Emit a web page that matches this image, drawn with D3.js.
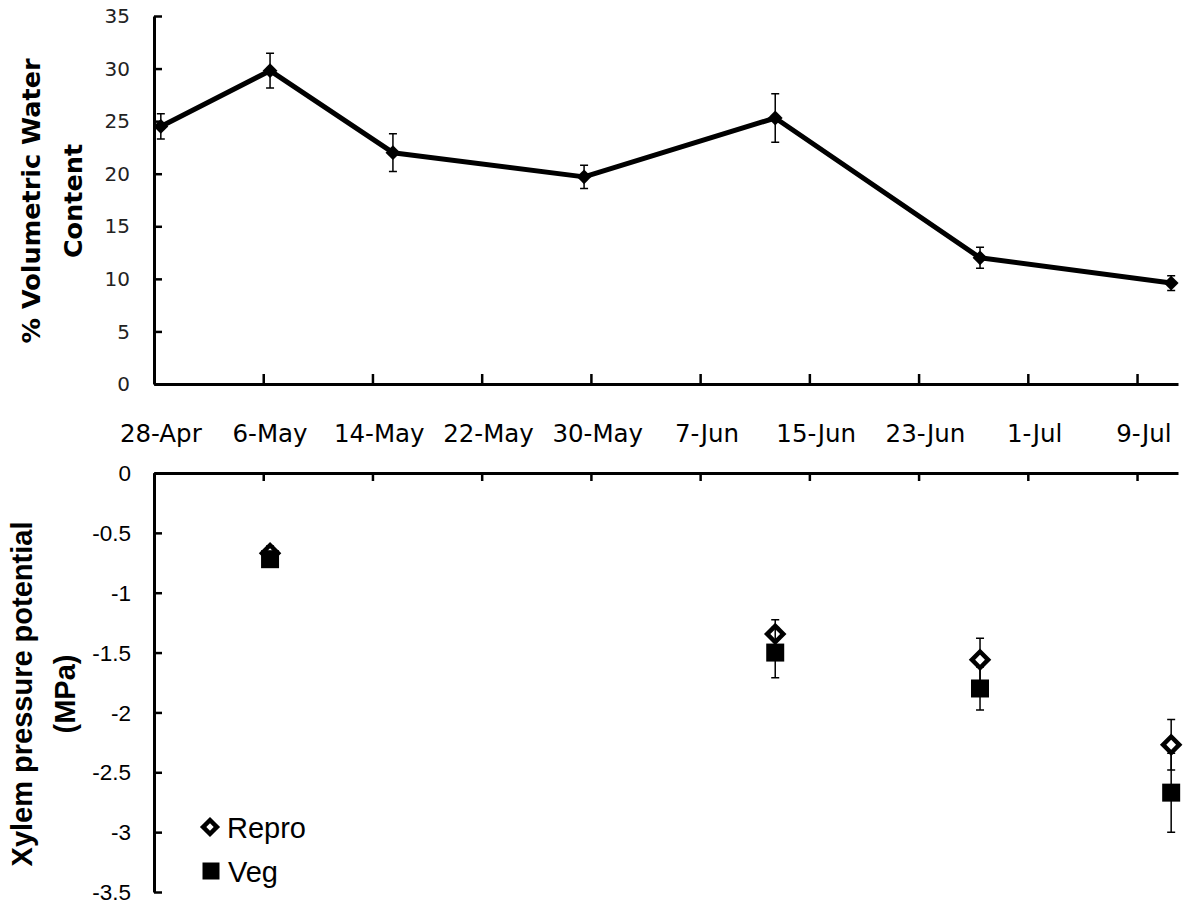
<!DOCTYPE html>
<html>
<head>
<meta charset="utf-8">
<style>
  body { margin: 0; background: #fff; }
  svg text { fill: #000; }
</style>
<script src="https://d3js.org/d3.v7.min.js"></script>
</head>
<body>
<svg width="1183" height="909"></svg>
<script>
// soil water content (top panel)
var vwcDates = ["28-Apr", "6-May", "15-May", "29-May", "12-Jun", "27-Jun", "11-Jul"];
var vwcMean = [24.5, 29.8, 22.0, 19.7, 25.3, 12.0, 9.6];
var vwcErr = [1.2, 1.65, 1.8, 1.1, 2.3, 1.0, 0.7];

// xylem pressure potential (bottom panel)
var psiDates = ["6-May", "12-Jun", "27-Jun", "11-Jul"];
var reproMean = [-0.67, -1.345, -1.56, -2.27];
var reproErr = [0.06, 0.12, 0.18, 0.21];
var vegMean = [-0.72, -1.50, -1.80, -2.67];
var vegErr = [0.04, 0.21, 0.18, 0.33];

var yTicksTop = [0, 5, 10, 15, 20, 25, 30, 35];
var yTicksBottom = [0, -0.5, -1, -1.5, -2, -2.5, -3, -3.5];

var parse = d3.utcParse("%d-%b-%Y");
function toDate(s) { return parse(s + "-2011"); }
function mid(s) { return d3.utcHour.offset(toDate(s), 12); }

var svg = d3.select("svg");

var x = d3.scaleUtc()
    .domain([toDate("28-Apr"), toDate("12-Jul")])
    .range([154, 1178]);
var xTicks = d3.utcDay.range(toDate("28-Apr"), toDate("12-Jul"), 8);

var yTop = d3.scaleLinear().domain([0, 35]).range([384, 16]);
var yBot = d3.scaleLinear().domain([0, -3.5]).range([473, 892]);

function styleAxis(g) {
  g.select(".domain").attr("stroke", "#000").attr("stroke-width", 3);
  g.selectAll(".tick line").attr("stroke", "#000").attr("stroke-width", 2.5);
}

// ---------- top panel ----------
var topG = svg.append("g");

topG.append("g")
   .attr("transform", "translate(0,384)")
   .call(d3.axisBottom(x).tickValues(xTicks).tickSize(-10).tickSizeOuter(0).tickFormat(""))
   .call(styleAxis);

topG.append("g")
   .attr("transform", "translate(154,0)")
   .call(d3.axisRight(yTop).tickValues(yTicksTop).tickSize(8).tickSizeOuter(0).tickFormat(""))
   .call(styleAxis);

topG.selectAll(".ylab")
   .data(yTicksTop)
   .enter().append("text")
   .attr("x", 130)
   .attr("y", function(d) { return yTop(d); })
   .attr("dy", "0.36em")
   .attr("text-anchor", "end")
   .style("font-family", "DejaVu Sans")
   .style("font-size", "20px")
   .style("fill", "#222")
   .text(function(d) { return d; });

topG.selectAll(".xlab")
   .data(xTicks)
   .enter().append("text")
   .attr("x", function(d) { return x(d3.utcHour.offset(d, 12)); })
   .attr("y", 442)
   .attr("text-anchor", "middle")
   .style("font-family", "DejaVu Sans")
   .style("font-size", "24.5px")
   .text(function(d) { return d3.utcFormat("%-d-%b")(d); });

var topTitle = topG.append("text")
   .attr("transform", "translate(40,201) rotate(-90)")
   .attr("text-anchor", "middle")
   .style("font-family", "DejaVu Sans")
   .style("font-weight", "bold")
   .style("font-size", "25.5px");
topTitle.append("tspan").attr("x", 0).attr("y", 0).text("% Volumetric Water");
topTitle.append("tspan").attr("x", 0).attr("y", 42).text("Content");

var vwc = vwcDates.map(function(d, i) {
  return { date: mid(d), v: vwcMean[i], e: vwcErr[i] };
});

topG.selectAll(".err")
   .data(vwc)
   .enter().append("path")
   .attr("fill", "none")
   .attr("stroke", "#000")
   .attr("stroke-width", 1.5)
   .attr("d", function(d) {
     var cx = x(d.date), y1 = yTop(d.v + d.e), y2 = yTop(d.v - d.e);
     return "M" + (cx - 4) + "," + y1 + "H" + (cx + 4) + "M" + cx + "," + y1 +
            "V" + y2 + "M" + (cx - 4) + "," + y2 + "H" + (cx + 4);
   });

topG.append("path")
   .datum(vwc)
   .attr("fill", "none")
   .attr("stroke", "#000")
   .attr("stroke-width", 5)
   .attr("stroke-linejoin", "round")
   .attr("d", d3.line()
       .x(function(d) { return x(d.date); })
       .y(function(d) { return yTop(d.v); }));

var diamondSmall = d3.symbol().type(d3.symbolSquare).size(110);
topG.selectAll(".pt")
   .data(vwc)
   .enter().append("path")
   .attr("transform", function(d) { return "translate(" + x(d.date) + "," + yTop(d.v) + ") rotate(45)"; })
   .attr("d", diamondSmall)
   .attr("fill", "#000");

// ---------- bottom panel ----------
var botG = svg.append("g");

botG.append("g")
   .attr("transform", "translate(0,473)")
   .call(d3.axisBottom(x).tickValues(xTicks).tickSize(8).tickSizeOuter(0).tickFormat(""))
   .call(styleAxis);

botG.append("g")
   .attr("transform", "translate(154,0)")
   .call(d3.axisRight(yBot).tickValues(yTicksBottom).tickSize(8).tickSizeOuter(0).tickFormat(""))
   .call(styleAxis);

botG.selectAll(".ylab")
   .data(yTicksBottom)
   .enter().append("text")
   .attr("x", 131)
   .attr("y", function(d) { return yBot(d); })
   .attr("dy", "0.36em")
   .attr("text-anchor", "end")
   .style("font-family", "Liberation Sans")
   .style("font-size", "22.5px")
   .text(function(d) { return d; });

var botTitle = botG.append("text")
   .attr("transform", "translate(32,694) rotate(-90)")
   .attr("text-anchor", "middle")
   .style("font-family", "Liberation Sans")
   .style("font-weight", "bold")
   .style("font-size", "29px");
botTitle.append("tspan").attr("x", 0).attr("y", 0).text("Xylem pressure potential");
botTitle.append("tspan").attr("x", 0).attr("y", 43).text("(MPa)");

var repro = psiDates.map(function(d, i) { return { date: mid(d), v: reproMean[i], e: reproErr[i] }; });
var veg = psiDates.map(function(d, i) { return { date: mid(d), v: vegMean[i], e: vegErr[i] }; });

function errBars(g, data) {
  g.selectAll(null)
   .data(data)
   .enter().append("path")
   .attr("fill", "none")
   .attr("stroke", "#000")
   .attr("stroke-width", 1.5)
   .attr("d", function(d) {
     var cx = x(d.date), y1 = yBot(d.v + d.e), y2 = yBot(d.v - d.e);
     return "M" + (cx - 4) + "," + y1 + "H" + (cx + 4) + "M" + cx + "," + y1 +
            "V" + y2 + "M" + (cx - 4) + "," + y2 + "H" + (cx + 4);
   });
}

var diamondBig = d3.symbol().type(d3.symbolSquare).size(130);
var squareBig = d3.symbol().type(d3.symbolSquare).size(324);

errBars(botG, repro);
botG.selectAll(".repro")
   .data(repro)
   .enter().append("path")
   .attr("transform", function(d) { return "translate(" + x(d.date) + "," + yBot(d.v) + ") rotate(45)"; })
   .attr("d", diamondBig)
   .attr("fill", "#fff")
   .attr("stroke", "#000")
   .attr("stroke-width", 4.5);

errBars(botG, veg);
botG.selectAll(".veg")
   .data(veg)
   .enter().append("path")
   .attr("transform", function(d) { return "translate(" + x(d.date) + "," + yBot(d.v) + ")"; })
   .attr("d", squareBig)
   .attr("fill", "#000");

// legend
var legend = botG.append("g");
legend.append("path")
   .attr("transform", "translate(210,827) rotate(45)")
   .attr("d", d3.symbol().type(d3.symbolSquare).size(95))
   .attr("fill", "#fff")
   .attr("stroke", "#000")
   .attr("stroke-width", 4.5);
legend.append("text")
   .attr("x", 227).attr("y", 838)
   .style("font-family", "Liberation Sans")
   .style("font-size", "29px")
   .text("Repro");
legend.append("path")
   .attr("transform", "translate(211,871)")
   .attr("d", d3.symbol().type(d3.symbolSquare).size(289))
   .attr("fill", "#000");
legend.append("text")
   .attr("x", 228).attr("y", 882)
   .style("font-family", "Liberation Sans")
   .style("font-size", "29px")
   .text("Veg");
</script>
</body>
</html>
